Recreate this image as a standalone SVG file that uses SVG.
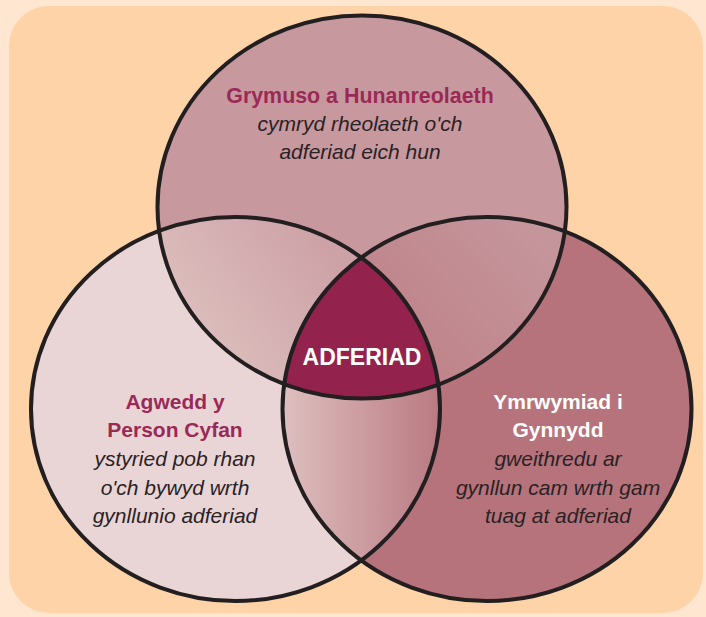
<svg xmlns="http://www.w3.org/2000/svg" width="706" height="617" viewBox="0 0 706 617">
<style>
.t{font-family:"Liberation Sans",Arial,sans-serif;text-anchor:middle;font-size:21px}
.h{font-weight:bold;fill:#9b2956}
.hw{font-weight:bold;fill:#ffffff}
.i{font-style:italic;fill:#2a2224}
.ring{fill:none;stroke:#231f20;stroke-width:4}
</style>
<defs>
<clipPath id="cT"><ellipse cx="362" cy="207" rx="204.5" ry="191.5"/></clipPath>
<clipPath id="cL"><ellipse cx="235.5" cy="409" rx="204.5" ry="192"/></clipPath>
<clipPath id="cR"><ellipse cx="487" cy="409" rx="204.5" ry="192"/></clipPath>
<linearGradient id="gTL" gradientUnits="userSpaceOnUse" x1="200" y1="340" x2="330" y2="250">
<stop offset="0" stop-color="#dcbdbc"/><stop offset="1" stop-color="#cda2a7"/>
</linearGradient>
<linearGradient id="gTR" gradientUnits="userSpaceOnUse" x1="420" y1="350" x2="540" y2="240">
<stop offset="0" stop-color="#bf858b"/><stop offset="1" stop-color="#c4959b"/>
</linearGradient>
<linearGradient id="gLR" gradientUnits="userSpaceOnUse" x1="285" y1="0" x2="440" y2="0">
<stop offset="0" stop-color="#ddbebe"/><stop offset="1" stop-color="#b97a82"/>
</linearGradient>
</defs>
<rect x="0" y="0" width="706" height="617" fill="#fee6d1"/>
<rect x="9" y="6" width="694" height="607" rx="40" fill="#fdd3a7"/>
<g id="node-top"><ellipse cx="362" cy="207" rx="204.5" ry="191.5" fill="#c8989f"/></g>
<g id="node-left"><ellipse cx="235.5" cy="409" rx="204.5" ry="192" fill="#e9d5d6"/></g>
<g id="node-right"><ellipse cx="487" cy="409" rx="204.5" ry="192" fill="#b6737c"/></g>
<g id="overlap-top-left" clip-path="url(#cT)"><rect x="0" y="0" width="706" height="617" fill="url(#gTL)" clip-path="url(#cL)"/></g>
<g id="overlap-top-right" clip-path="url(#cT)"><rect x="0" y="0" width="706" height="617" fill="url(#gTR)" clip-path="url(#cR)"/></g>
<g id="overlap-left-right" clip-path="url(#cL)"><rect x="0" y="0" width="706" height="617" fill="url(#gLR)" clip-path="url(#cR)"/></g>
<g id="node-center" clip-path="url(#cT)"><g clip-path="url(#cL)"><rect x="0" y="0" width="706" height="617" fill="#93234d" clip-path="url(#cR)"/></g></g>
<g id="outlines">
<ellipse class="ring" cx="362" cy="207" rx="204.5" ry="191.5"/>
<ellipse class="ring" cx="235.5" cy="409" rx="204.5" ry="192"/>
<ellipse class="ring" cx="487" cy="409" rx="204.5" ry="192"/>
</g>
<g id="labels">
<text class="t h" x="360" y="103" style="font-size:21.4px">Grymuso a Hunanreolaeth</text>
<text class="t i" x="360" y="131">cymryd rheolaeth o'ch</text>
<text class="t i" x="360" y="159">adferiad eich hun</text>
<text class="t hw" x="362" y="365" style="font-size:23px">ADFERIAD</text>
<text class="t h" x="175" y="409">Agwedd y</text>
<text class="t h" x="175" y="437">Person Cyfan</text>
<text class="t i" x="175" y="466">ystyried pob rhan</text>
<text class="t i" x="175" y="495">o'ch bywyd wrth</text>
<text class="t i" x="175" y="523">gynllunio adferiad</text>
<text class="t hw" x="558" y="409">Ymrwymiad i</text>
<text class="t hw" x="558" y="437">Gynnydd</text>
<text class="t i" x="558" y="466">gweithredu ar</text>
<text class="t i" x="558" y="495">gynllun cam wrth gam</text>
<text class="t i" x="558" y="523">tuag at adferiad</text>
</g>
</svg>
